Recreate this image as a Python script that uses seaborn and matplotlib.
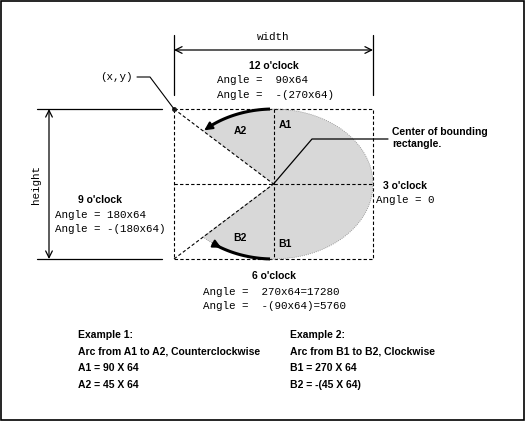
import matplotlib
matplotlib.use("Agg")
import matplotlib.pyplot as plt
import seaborn as sns
import numpy as np
from matplotlib.patches import Polygon, Rectangle

sns.set_theme(style="white")
plt.rcParams["font.family"] = ["Liberation Sans", "DejaVu Sans"]

# bounding rectangle (pixel units)
rect_x, rect_y, rect_w, rect_h = 174, 109, 199, 150
cx, cy = rect_x + rect_w / 2, rect_y + rect_h / 2
wedge_start, wedge_end = -135, 135

clock_labels = ["12 o'clock", "9 o'clock", "3 o'clock", "6 o'clock"]
angle_12 = ["Angle =  90x64", "Angle =  -(270x64)"]
angle_9 = ["Angle = 180x64", "Angle = -(180x64)"]
angle_3 = ["Angle = 0"]
angle_6 = ["Angle =  270x64=17280", "Angle =  -(90x64)=5760"]
example1 = ["Example 1:", "Arc from A1 to A2, Counterclockwise", "A1 = 90 X 64", "A2 = 45 X 64"]
example2 = ["Example 2:", "Arc from B1 to B2, Clockwise", "B1 = 270 X 64", "B2 = -(45 X 64)"]

MONO = dict(family="Liberation Mono", fontsize=7.8, color="black")
BOLD = dict(fontsize=7.5, fontweight="bold", color="black")

fig = plt.figure(figsize=(5.25, 4.21), dpi=100)
ax = fig.add_axes([0, 0, 1, 1])
ax.set_xlim(0, 525)
ax.set_ylim(421, 0)
ax.axis("off")
ax.add_patch(Rectangle((0.5, 0.5), 523.5, 419.5, fill=False, lw=1.2, ec="black"))


def ell(deg):
    t = np.radians(deg)
    return cx + rect_w / 2 * np.cos(t), cy - rect_h / 2 * np.sin(t)


# shaded wedge
t = np.linspace(wedge_start, wedge_end, 200)
px, py = ell(t)
pts = np.column_stack([np.r_[cx, px], np.r_[cy, py]])
ax.add_patch(Polygon(pts, closed=True, fc="#d8d8d8", ec="none", hatch="....", lw=0))
ax.plot(np.r_[cx, px], np.r_[cy, py], color="#888888", lw=0.6, ls=(0, (1, 1.5)))

dash = dict(color="black", lw=0.8, ls=(0, (3, 2)))
ax.add_patch(Rectangle((rect_x, rect_y), rect_w, rect_h, fill=False, **dash))
ax.plot([cx, cx], [rect_y, rect_y + rect_h], **dash)
ax.plot([rect_x, rect_x + rect_w], [cy, cy], **dash)
ax.plot([rect_x, cx], [rect_y, cy], **dash)
ax.plot([rect_x, cx], [rect_y + rect_h, cy], **dash)
ax.plot([rect_x], [rect_y], "ko", ms=2.5)

# thick arcs with arrow heads
for a0, a1 in [(92, 128), (268, 232)]:
    tt = np.linspace(a0, a1, 50)
    ax_, ay_ = ell(tt)
    ax.plot(ax_, ay_, color="black", lw=2.2, solid_capstyle="butt")
    hx, hy = ell(a1 + 8)
    ax.annotate("", xy=(hx, hy), xytext=(ax_[-1], ay_[-1]),
                arrowprops=dict(arrowstyle="-|>", color="black", lw=1.5, mutation_scale=12))

for lbl, (x, y) in zip(["A2", "A1", "B2", "B1"], [(240, 131), (285, 125), (240, 238), (285, 244)]):
    ax.text(x, y, lbl, ha="center", va="center", **BOLD)

# centre pointer
ax.plot([cx, 312, 388], [cy, 139, 139], color="black", lw=0.9)
ax.text(392, 138, "Center of bounding\nrectangle.", ha="left", va="center", linespacing=1.2, **BOLD)

# width dimension
ax.plot([rect_x, rect_x], [35, 95], color="black", lw=0.9)
ax.plot([rect_x + rect_w, rect_x + rect_w], [35, 95], color="black", lw=0.9)
ax.annotate("", xy=(rect_x, 50), xytext=(rect_x + rect_w, 50),
            arrowprops=dict(arrowstyle="<->", color="black", lw=0.9, shrinkA=0, shrinkB=0))
ax.text(cx, 37, "width", ha="center", va="center", **MONO)

# height dimension
ax.plot([37, 162], [rect_y, rect_y], color="black", lw=0.9)
ax.plot([37, 162], [rect_y + rect_h, rect_y + rect_h], color="black", lw=0.9)
ax.annotate("", xy=(49, rect_y), xytext=(49, rect_y + rect_h),
            arrowprops=dict(arrowstyle="<->", color="black", lw=0.9, shrinkA=0, shrinkB=0))
ax.text(36, cy, "height", ha="center", va="center", rotation=90, **MONO)

# (x,y)
ax.text(133, 77, "(x,y)", ha="right", va="center", **MONO)
ax.plot([137, 150, rect_x], [77, 77, rect_y], color="black", lw=0.8)

# clock annotations
ax.text(cx, 66, clock_labels[0], ha="center", va="center", **BOLD)
for i, s in enumerate(angle_12):
    ax.text(217, 80 + 15 * i, s, ha="left", va="center", **MONO)
ax.text(100, 200, clock_labels[1], ha="center", va="center", **BOLD)
for i, s in enumerate(angle_9):
    ax.text(55, 215 + 14 * i, s, ha="left", va="center", **MONO)
ax.text(405, 186, clock_labels[2], ha="center", va="center", **BOLD)
for i, s in enumerate(angle_3):
    ax.text(405, 200 + 14 * i, s, ha="center", va="center", **MONO)
ax.text(cx, 276, clock_labels[3], ha="center", va="center", **BOLD)
for i, s in enumerate(angle_6):
    ax.text(203, 292 + 14 * i, s, ha="left", va="center", **MONO)

# examples
for i, s in enumerate(example1):
    ax.text(78, 335 + 16.7 * i, s, ha="left", va="center", **BOLD)
for i, s in enumerate(example2):
    ax.text(290, 335 + 16.7 * i, s, ha="left", va="center", **BOLD)

fig.savefig("out.png", dpi=100, facecolor="white")
